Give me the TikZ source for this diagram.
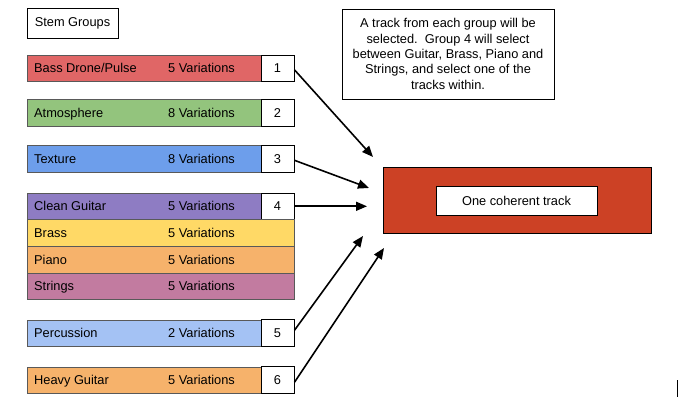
\documentclass[tikz,border=0pt]{standalone}
\usepackage{fontspec}
\setmainfont{Liberation Sans}
\usetikzlibrary{arrows.meta}
\definecolor{cBass}{HTML}{E06666}
\definecolor{cAtmo}{HTML}{93C47D}
\definecolor{cTex}{HTML}{6D9EEB}
\definecolor{cClean}{HTML}{8E7CC3}
\definecolor{cBrass}{HTML}{FFD966}
\definecolor{cPiano}{HTML}{F6B26B}
\definecolor{cStr}{HTML}{C27BA0}
\definecolor{cPerc}{HTML}{A4C2F4}
\definecolor{cHeavy}{HTML}{F6B26B}
\definecolor{cRed}{HTML}{CC4125}
\definecolor{rowline}{HTML}{595959}
\begin{document}
\begin{tikzpicture}[x=1pt,y=-1pt,
  txt/.style={font=\fontsize{12.8}{15.3}\selectfont},
  rowbox/.style={draw=rowline, line width=0.9pt, inner sep=0pt, anchor=north west, minimum height=26.5pt},
  lbl/.style={txt, inner sep=0pt, anchor=base west},
  numbox/.style={txt, draw=black, fill=white, line width=0.9pt, inner sep=0pt, minimum width=33pt, minimum height=26.5pt},
  plainbox/.style={txt, draw=black, fill=white, line width=0.9pt, inner sep=0pt, align=center},
  conn/.style={line width=1.6pt, -{Triangle[length=11pt,width=9pt]}}
]
\useasboundingbox (0,0) rectangle (678,417);

\node[plainbox, minimum width=91pt, minimum height=30pt] (stem) at (72.5,23) {Stem Groups};

% group 1
\node[rowbox, fill=cBass, minimum width=234pt] (bass) at (27,55) {};
\node[lbl] (bassL) at (34,73) {Bass Drone/Pulse};
\node[lbl] (bassV) at (168,73) {5 Variations};
\node[numbox] (n1) at (277.5,68.3) {1};

% group 2
\node[rowbox, fill=cAtmo, minimum width=234pt] (atmo) at (27,99.5) {};
\node[lbl] (atmoL) at (34,117.5) {Atmosphere};
\node[lbl] (atmoV) at (168,117.5) {8 Variations};
\node[numbox] (n2) at (277.5,112.8) {2};

% group 3
\node[rowbox, fill=cTex, minimum width=234pt] (tex) at (27,145.5) {};
\node[lbl] (texL) at (34,163.5) {Texture};
\node[lbl] (texV) at (168,163.5) {8 Variations};
\node[numbox] (n3) at (277.5,158.8) {3};

% group 4
\node[rowbox, fill=cClean, minimum width=234pt] (clean) at (27,193) {};
\node[lbl] (cleanL) at (34,211) {Clean Guitar};
\node[lbl] (cleanV) at (168,211) {5 Variations};
\node[numbox] (n4) at (277.5,206.3) {4};
\node[rowbox, fill=cBrass, minimum width=267pt] (brass) at (27,219.5) {};
\node[lbl] (brassL) at (34,237.5) {Brass};
\node[lbl] (brassV) at (168,237.5) {5 Variations};
\node[rowbox, fill=cPiano, minimum width=267pt] (piano) at (27,246) {};
\node[lbl] (pianoL) at (34,264) {Piano};
\node[lbl] (pianoV) at (168,264) {5 Variations};
\node[rowbox, fill=cStr, minimum width=267pt] (str) at (27,272.5) {};
\node[lbl] (strL) at (34,290.5) {Strings};
\node[lbl] (strV) at (168,290.5) {5 Variations};

% group 5
\node[rowbox, fill=cPerc, minimum width=234pt] (perc) at (27,319.5) {};
\node[lbl] (percL) at (34,337.5) {Percussion};
\node[lbl] (percV) at (168,337.5) {2 Variations};
\node[numbox] (n5) at (277.5,332.8) {5};

% group 6
\node[rowbox, fill=cHeavy, minimum width=234pt] (heavy) at (27,366.5) {};
\node[lbl] (heavyL) at (34,384.5) {Heavy Guitar};
\node[lbl] (heavyV) at (168,384.5) {5 Variations};
\node[numbox] (n6) at (277.5,379.8) {6};

% note
\node[plainbox, minimum width=212pt, minimum height=90pt] (note) at (448,54)
  {A track from each group will be\\ selected.\ \ Group 4 will select\\ between Guitar, Brass, Piano and\\ Strings, and select one of the\\ tracks within.};

% output
\node[draw=black, fill=cRed, line width=0.9pt, minimum width=268pt, minimum height=66pt, inner sep=0pt] (out) at (517,200) {};
\node[plainbox, minimum width=161pt, minimum height=29pt] (outL) at (516.5,200.5) {One coherent track};

\coordinate (t1) at (373,157);
\coordinate (t3) at (369,188);
\coordinate (t4) at (367,206.3);
\coordinate (t5) at (363,236);
\coordinate (t6) at (384,248);

\draw[conn] ([yshift=-1.5pt]n1.east) -- (t1);
\draw[conn] ([yshift=-1.5pt]n3.east) -- (t3);
\draw[conn] (n4.east) -- (t4);
\draw[conn] ([yshift=2.5pt]n5.east) -- (t5);
\draw[conn] ([yshift=-2.5pt]n6.east) -- (t6);

% stray marker at right edge
\draw[line width=1pt] (677,380) -- (677,397);
\end{tikzpicture}
\end{document}
